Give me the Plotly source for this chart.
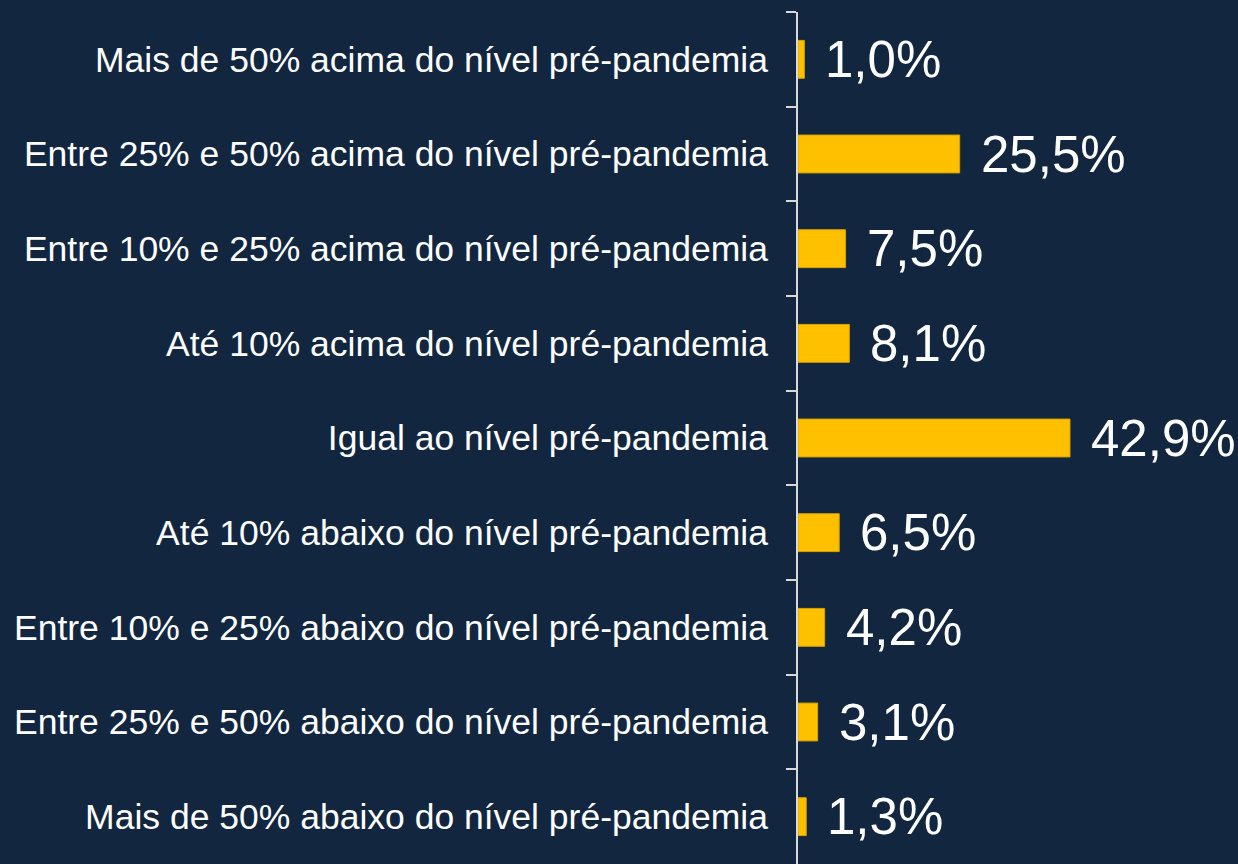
import plotly.graph_objects as go

categories = [
    "Mais de 50% acima do nível pré-pandemia",
    "Entre 25% e 50% acima do nível pré-pandemia",
    "Entre 10% e 25% acima do nível pré-pandemia",
    "Até 10% acima do nível pré-pandemia",
    "Igual ao nível pré-pandemia",
    "Até 10% abaixo do nível pré-pandemia",
    "Entre 10% e 25% abaixo do nível pré-pandemia",
    "Entre 25% e 50% abaixo do nível pré-pandemia",
    "Mais de 50% abaixo do nível pré-pandemia",
]
values = [1.0, 25.5, 7.5, 8.1, 42.9, 6.5, 4.2, 3.1, 1.3]
value_labels = ["1,0%", "25,5%", "7,5%", "8,1%", "42,9%", "6,5%", "4,2%", "3,1%", "1,3%"]

BG = "#12263F"
BAR = "#FFC000"
FONT = "Liberation Sans, Arial, sans-serif"

fig = go.Figure()
fig.add_trace(go.Bar(
    x=values, y=categories, orientation="h",
    marker=dict(color=BAR, line=dict(color="#D9A300", width=1)),
    width=0.4, hoverinfo="skip",
))

for c, v, t in zip(categories, values, value_labels):
    fig.add_annotation(x=v, y=c, xref="x", yref="y", text=t, showarrow=False,
                       xanchor="left", yanchor="middle", xshift=19,
                       font=dict(family=FONT, size=51, color="white"))

fig.update_layout(
    width=1238, height=864,
    paper_bgcolor=BG, plot_bgcolor=BG,
    margin=dict(l=798, r=0, t=12, b=0),
    showlegend=False,
    bargap=0.6,
    xaxis=dict(range=[0, 69.4], visible=False, showgrid=False, zeroline=False),
    yaxis=dict(
        type="category", autorange="reversed",
        showline=True, linecolor="#D9D9D9", linewidth=2,
        ticks="outside", tickson="boundaries", ticklen=10, tickcolor="#D9D9D9", tickwidth=2,
        tickfont=dict(family=FONT, size=35.5, color="white"),
        ticklabelstandoff=21,
        showgrid=False,
    ),
)

fig.write_html(
    "out.html",
    config={"displayModeBar": False},
    post_script="document.body.style.margin='0';document.body.style.background='" + BG + "';",
)
